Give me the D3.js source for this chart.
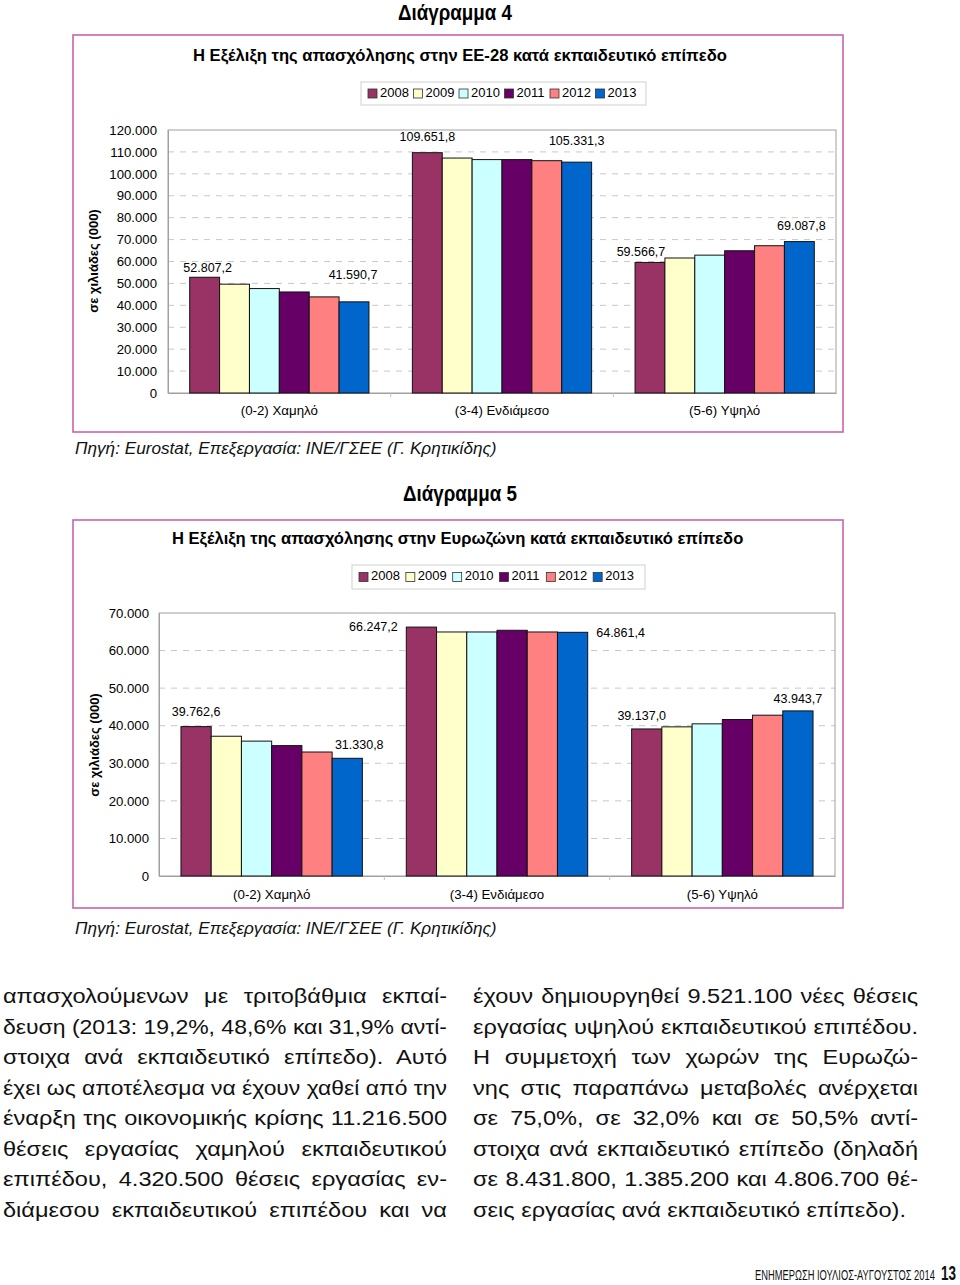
<!DOCTYPE html>
<html>
<head>
<meta charset="utf-8">
<script src="https://cdn.jsdelivr.net/npm/d3@7"></script>
<style>
  html, body { margin: 0; padding: 0; background: #fff; }
  svg { display: block; }
  text { font-family: "Liberation Sans", Arial, sans-serif; }
</style>
</head>
<body>
<svg id="page" width="960" height="1285"></svg>
<script>
// ---------------- DATA ----------------
const categories = ["(0-2) Χαμηλό", "(3-4) Ενδιάμεσο", "(5-6) Υψηλό"];
const years = ["2008", "2009", "2010", "2011", "2012", "2013"];

// EU-28 (thousands)
const eu28Low  = [52807.2, 49650, 47650, 46100, 43850, 41590.7];
const eu28Mid  = [109651.8, 107200, 106500, 106500, 106000, 105331.3];
const eu28High = [59566.7, 61600, 62900, 64900, 67200, 69087.8];
const eu28Ticks = [0, 10000, 20000, 30000, 40000, 50000, 60000, 70000, 80000, 90000, 100000, 110000, 120000];

// Eurozone (thousands)
const ezLow  = [39762.6, 37200, 35900, 34700, 33000, 31330.8];
const ezMid  = [66247.2, 64950, 64950, 65400, 64950, 64861.4];
const ezHigh = [39137.0, 39700, 40500, 41650, 42800, 43943.7];
const ezTicks = [0, 10000, 20000, 30000, 40000, 50000, 60000, 70000];

// Series with value labels (first and last year)
const labelledYears = ["2008", "2013"];

const bodyLeft = [
  "απασχολούμενων με τριτοβάθμια εκπαί-",
  "δευση (2013: 19,2%, 48,6% και 31,9% αντί-",
  "στοιχα ανά εκπαιδευτικό επίπεδο). Αυτό",
  "έχει ως αποτέλεσμα να έχουν χαθεί από την",
  "έναρξη της οικονομικής κρίσης 11.216.500",
  "θέσεις εργασίας χαμηλού εκπαιδευτικού",
  "επιπέδου, 4.320.500 θέσεις εργασίας εν-",
  "διάμεσου εκπαιδευτικού επιπέδου και να"
];
const bodyRight = [
  "έχουν δημιουργηθεί 9.521.100 νέες θέσεις",
  "εργασίας υψηλού εκπαιδευτικού επιπέδου.",
  "Η συμμετοχή των χωρών της Ευρωζώ-",
  "νης στις παραπάνω μεταβολές ανέρχεται",
  "σε 75,0%, σε 32,0% και σε 50,5% αντί-",
  "στοιχα ανά εκπαιδευτικό επίπεδο (δηλαδή",
  "σε 8.431.800, 1.385.200 και 4.806.700 θέ-",
  "σεις εργασίας ανά εκπαιδευτικό επίπεδο)."
];

// ---------------- STYLE / LAYOUT ----------------
const colors = ["#993366", "#FFFFCC", "#CCFFFF", "#660066", "#FF8080", "#0066CC"];
const gr = d3.formatLocale({decimal: ",", thousands: ".", grouping: [3], currency: ["", "€"]});
const fmtTick = gr.format(",.0f");
const fmtLabel = gr.format(",.1f");

const svg = d3.select("#page");
svg.append("rect").attr("width", 960).attr("height", 1285).attr("fill", "#fff");

// Text squeezed horizontally through a transform (so its box is the real drawn box)
function squeezed(parent, s, x, y, size, weight, width, anchor) {
  const g = parent.append("g");
  const t = g.append("text").attr("x", 0).attr("y", 0).attr("font-size", size)
    .attr("font-weight", weight).attr("fill", "#000").attr("dominant-baseline", "middle").text(s);
  const nat = t.node().getComputedTextLength();
  const k = width / nat;
  const x0 = anchor === "middle" ? x - width / 2 : x;
  g.attr("transform", `translate(${x0},${y}) scale(${k},1)`);
  return t;
}

function drawChart(cfg) {
  const g = svg.append("g");
  // Heading above the box
  squeezed(g, cfg.heading, cfg.headX, cfg.headY, 22, "bold", 114, "middle");
  // Box
  g.append("rect").attr("x", cfg.box[0]).attr("y", cfg.box[1]).attr("width", cfg.box[2]).attr("height", cfg.box[3])
    .attr("fill", "#fff").attr("stroke", "#C864AA").attr("stroke-width", 1.6);
  // Subtitle
  squeezed(g, cfg.subtitle, cfg.subX, cfg.subY, 17, "bold", cfg.subLen, "middle");

  // Legend
  const lg = g.append("g");
  lg.append("rect").attr("x", cfg.legend[0]).attr("y", cfg.legend[1]).attr("width", cfg.legend[2]).attr("height", cfg.legend[3])
    .attr("fill", "#fff").attr("stroke", "#d0d0d0").attr("stroke-width", 1);
  const itemW = (cfg.legend[2] - 12) / years.length;
  years.forEach((yr, i) => {
    const x0 = cfg.legend[0] + 7 + i * itemW;
    const cy = cfg.legend[1] + cfg.legend[3] / 2;
    lg.append("rect").attr("x", x0).attr("y", cy - 4.5).attr("width", 9).attr("height", 9)
      .attr("fill", colors[i]).attr("stroke", "#333").attr("stroke-width", 0.8);
    lg.append("text").attr("x", x0 + 12).attr("y", cy).attr("dominant-baseline", "middle")
      .attr("font-size", 13).text(yr);
  });

  const [L, T, R, B] = cfg.plot;
  const y = d3.scaleLinear().domain([0, d3.max(cfg.ticks)]).range([B, T]);
  const x0 = d3.scaleBand().domain(categories).range([L, R]).paddingInner(0.195).paddingOuter(0.0975);
  const x1 = d3.scaleBand().domain(years).range([0, x0.bandwidth()]);

  // gridlines
  g.append("g").selectAll("line").data(cfg.ticks.filter(t => t > 0 && t < d3.max(cfg.ticks))).join("line")
    .attr("x1", L).attr("x2", R).attr("y1", d => y(d)).attr("y2", d => y(d))
    .attr("stroke", "#c8c8c8").attr("stroke-width", 1).attr("stroke-dasharray", "6,6");

  // plot border
  g.append("rect").attr("x", L).attr("y", T).attr("width", R - L).attr("height", B - T)
    .attr("fill", "none").attr("stroke", "#a0a0a0").attr("stroke-width", 1);

  // y axis
  const ya = g.append("g").attr("transform", `translate(${L},0)`)
    .call(d3.axisLeft(y).tickValues(cfg.ticks).tickFormat(d => fmtTick(d)).tickSize(0).tickPadding(cfg.tickPad));
  ya.select(".domain").attr("stroke", "#a0a0a0");
  ya.selectAll("text").attr("font-size", 13.2).attr("fill", "#000").attr("font-family", "Liberation Sans, Arial, sans-serif");

  // x axis
  const xa = g.append("g").attr("transform", `translate(0,${B})`)
    .call(d3.axisBottom(x0).tickSize(0).tickPadding(cfg.catPad));
  xa.select(".domain").attr("stroke", "#a0a0a0");
  xa.selectAll("text").attr("font-size", 13.3).attr("fill", "#000").attr("font-family", "Liberation Sans, Arial, sans-serif");
  // category separator ticks
  const step = x0.step();
  g.append("g").selectAll("line").data(categories.slice(1)).join("line")
    .attr("x1", d => x0(d) - (step - x0.bandwidth()) / 2).attr("x2", d => x0(d) - (step - x0.bandwidth()) / 2)
    .attr("y1", B).attr("y2", B + 4).attr("stroke", "#c0c0c0");

  // y title
  g.append("text").attr("transform", `translate(${cfg.yTitle[0]},${cfg.yTitle[1]}) rotate(-90)`)
    .attr("text-anchor", "middle").attr("dominant-baseline", "middle")
    .attr("font-size", 13).attr("font-weight", "bold").text("σε χιλιάδες (000)");

  // bars
  const rows = [];
  categories.forEach((c, ci) => years.forEach((yr, yi) => rows.push({c, yr, yi, v: cfg.values[ci][yi], ci})));
  g.append("g").selectAll("rect").data(rows).join("rect")
    .attr("x", d => x0(d.c) + x1(d.yr))
    .attr("y", d => y(d.v))
    .attr("width", x1.bandwidth())
    .attr("height", d => B - y(d.v))
    .attr("fill", d => colors[d.yi])
    .attr("stroke", "#111").attr("stroke-width", 1);

  // value labels
  const lab = rows.filter(d => labelledYears.includes(d.yr));
  const nud = d => cfg.nudge[d.ci * 2 + (d.yr === "2013" ? 1 : 0)];
  g.append("g").selectAll("text").data(lab).join("text")
    .attr("x", d => x0(d.c) + x1(d.yr) + x1.bandwidth() / 2 + nud(d)[0])
    .attr("y", d => y(d.v) + nud(d)[1])
    .attr("text-anchor", "middle").attr("dominant-baseline", "middle")
    .attr("font-size", 12.5).attr("fill", "#000")
    .text(d => fmtLabel(d.v));

  // source
  g.append("text").attr("x", 75).attr("y", cfg.srcY).attr("dominant-baseline", "middle")
    .attr("font-size", 17.2).attr("font-style", "italic").attr("fill", "#111")
    .text("Πηγή: Eurostat, Επεξεργασία: ΙΝΕ/ΓΣΕΕ (Γ. Κρητικίδης)");
}

drawChart({
  heading: "Διάγραμμα 4", headX: 455, headY: 14,
  box: [73, 35, 770, 397],
  subtitle: "Η Εξέλιξη της απασχόλησης στην ΕΕ-28 κατά εκπαιδευτικό επίπεδο", subX: 460, subY: 57, subLen: 534,
  legend: [361, 82, 285, 23],
  plot: [168, 130, 836, 393],
  ticks: eu28Ticks, tickPad: 11, catPad: 13,
  values: [eu28Low, eu28Mid, eu28High],
  yTitle: [95, 261],
  nudge: [[3, -9], [-1, -26], [0, -15], [0, -20], [-9, -10], [2, -15]],
  srcY: 449
});

drawChart({
  heading: "Διάγραμμα 5", headX: 460, headY: 495,
  box: [73, 520, 770, 388],
  subtitle: "Η Εξέλιξη της απασχόλησης στην Ευρωζώνη κατά εκπαιδευτικό επίπεδο", subX: 458, subY: 540, subLen: 572,
  legend: [352, 565, 293, 24],
  plot: [159, 613, 835, 876],
  ticks: ezTicks, tickPad: 10, catPad: 14,
  values: [ezLow, ezMid, ezHigh],
  yTitle: [96, 745],
  nudge: [[0, -14], [12, -13], [-48, 1], [48, 1], [-5, -12], [0, -11]],
  srcY: 929
});

// ---------------- BODY TEXT ----------------
// Glyphs are widened horizontally (the original face is wider than Arial),
// lines are justified via word spacing.
const SX = 1.15;
function column(lines, x, w, lastNatural) {
  const cg = svg.append("g").attr("transform", `translate(${x},0) scale(${SX},1)`);
  lines.forEach((s, i) => {
    const t = cg.append("text").attr("x", 0).attr("y", 1003 + i * 30.55)
      .attr("font-size", 20.5).attr("fill", "#111").text(s);
    if (lastNatural && i === lines.length - 1) return;
    const natural = t.node().getComputedTextLength();
    const target = w / SX;
    const spaces = (s.match(/ /g) || []).length;
    const extra = target - natural;
    if (extra > 0 && spaces > 0) {
      t.attr("word-spacing", extra / spaces);
    } else {
      t.attr("textLength", target).attr("lengthAdjust", "spacingAndGlyphs");
    }
  });
}
column(bodyLeft, 3, 444, false);
column(bodyRight, 473, 445, true);

// footer
squeezed(svg, "ΕΝΗΜΕΡΩΣΗ ΙΟΥΛΙΟΣ-ΑΥΓΟΥΣΤΟΣ 2014", 755, 1276, 14, "normal", 180, "start").attr("fill", "#111");
squeezed(svg, "13", 941, 1275, 20, "bold", 15, "start").attr("fill", "#111");
</script>
</body>
</html>
